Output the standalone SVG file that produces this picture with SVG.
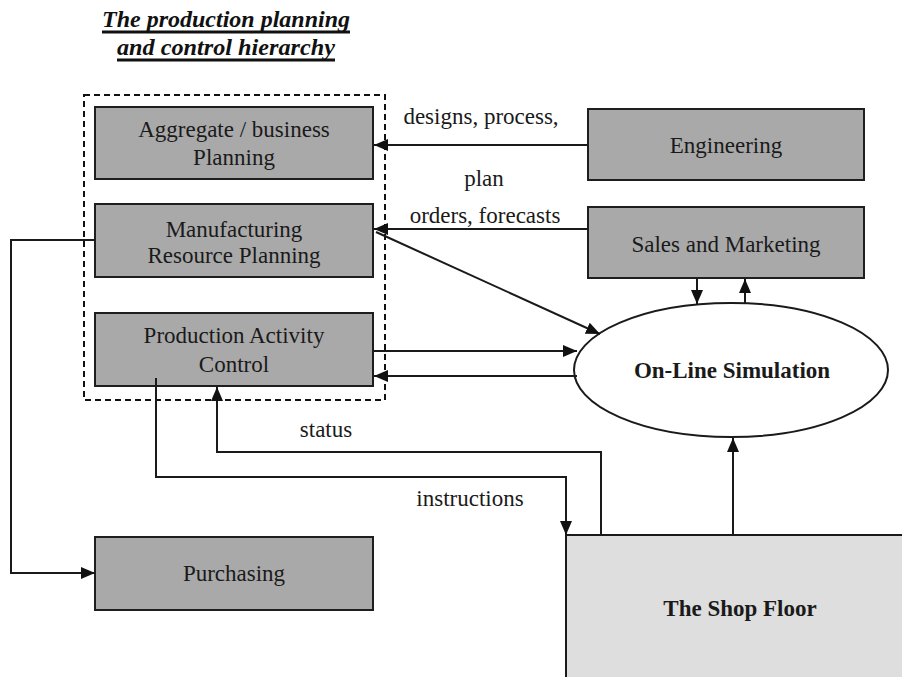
<svg xmlns="http://www.w3.org/2000/svg" width="902" height="677" viewBox="0 0 902 677">
  <style>
    .box { fill: #a9a9a9; stroke: #1e1e1e; stroke-width: 2; }
    .lbl { font-family: "Liberation Serif", "Times New Roman", serif; font-size: 23px; fill: #1a1a1a; text-anchor: middle; }
    .bold { font-weight: bold; }
    .title { font-family: "Liberation Serif", serif; font-size: 23px; font-weight: bold; font-style: italic; fill: #111; text-anchor: middle; }
    .wire { fill: none; stroke: #1a1a1a; stroke-width: 2; }
    .arr { marker-end: url(#head); }
  </style>
  <defs>
    <marker id="head" viewBox="0 0 14 12" refX="14" refY="6" markerWidth="14" markerHeight="12" markerUnits="userSpaceOnUse" orient="auto">
      <path d="M0,0 L14,6 L0,12 z" fill="#111"/>
    </marker>
  </defs>

  <rect width="902" height="677" fill="#ffffff"/>

  <!-- heading -->
  <g id="heading">
    <text class="title" x="226" y="27" textLength="248" lengthAdjust="spacingAndGlyphs">The production planning</text>
    <line x1="102" y1="32" x2="350" y2="32" stroke="#111" stroke-width="3"/>
    <text class="title" x="226" y="55" textLength="218" lengthAdjust="spacingAndGlyphs">and control hierarchy</text>
    <line x1="117" y1="60" x2="335" y2="60" stroke="#111" stroke-width="3"/>
  </g>

  <!-- planning hierarchy boundary -->
  <g id="hierarchy">
    <rect x="84" y="95" width="301" height="305" fill="none" stroke="#111" stroke-width="2" stroke-dasharray="6,4"/>
  </g>

  <g id="aggregate">
    <rect class="box" x="95" y="107" width="278" height="72"/>
    <text class="lbl" x="234" y="137">Aggregate / business</text>
    <text class="lbl" x="234" y="165">Planning</text>
  </g>

  <g id="mrp">
    <rect class="box" x="95" y="204" width="278" height="73"/>
    <text class="lbl" x="234" y="237">Manufacturing</text>
    <text class="lbl" x="234" y="263">Resource Planning</text>
  </g>

  <g id="pac">
    <rect class="box" x="95" y="313" width="278" height="73"/>
    <text class="lbl" x="234" y="343">Production Activity</text>
    <text class="lbl" x="234" y="372">Control</text>
  </g>

  <g id="purchasing">
    <rect class="box" x="95" y="537" width="278" height="73"/>
    <text class="lbl" x="234" y="581">Purchasing</text>
  </g>

  <g id="engineering">
    <rect class="box" x="588" y="109" width="276" height="71"/>
    <text class="lbl" x="726" y="153">Engineering</text>
  </g>

  <g id="sales">
    <rect class="box" x="588" y="207" width="276" height="71"/>
    <text class="lbl" x="726" y="252">Sales and Marketing</text>
  </g>

  <g id="simulation">
    <ellipse cx="731" cy="370" rx="157" ry="67" fill="#ffffff" stroke="#1a1a1a" stroke-width="2"/>
    <text class="lbl bold" x="732" y="378">On-Line Simulation</text>
  </g>

  <g id="shopfloor">
    <rect x="566" y="535" width="340" height="146" fill="#dedede" stroke="#1a1a1a" stroke-width="2"/>
    <text class="lbl bold" x="740" y="616">The Shop Floor</text>
  </g>

  <!-- connectors -->
  <g id="connectors">
    <path class="wire arr" d="M588,145 H374"/>
    <path class="wire arr" d="M588,229 H374"/>
    <path class="wire arr" d="M376,232 L600,334"/>
    <path class="wire arr" d="M373,351 H577"/>
    <path class="wire arr" d="M577,376 H374"/>
    <path class="wire arr" d="M697,278 V304"/>
    <path class="wire arr" d="M745,303 V279"/>
    <path class="wire arr" d="M733,535 V438"/>
    <path class="wire arr" d="M156,378 V477 H566 V535"/>
    <path class="wire arr" d="M601,535 V452 H217 V387"/>
    <path class="wire arr" d="M95,240 H11 V573 H95"/>
  </g>

  <!-- connector labels -->
  <g id="labels">
    <text class="lbl" x="481" y="124">designs, process,</text>
    <text class="lbl" x="484" y="186">plan</text>
    <text class="lbl" x="485" y="223">orders, forecasts</text>
    <text class="lbl" x="326" y="437">status</text>
    <text class="lbl" x="470" y="506">instructions</text>
  </g>
</svg>
